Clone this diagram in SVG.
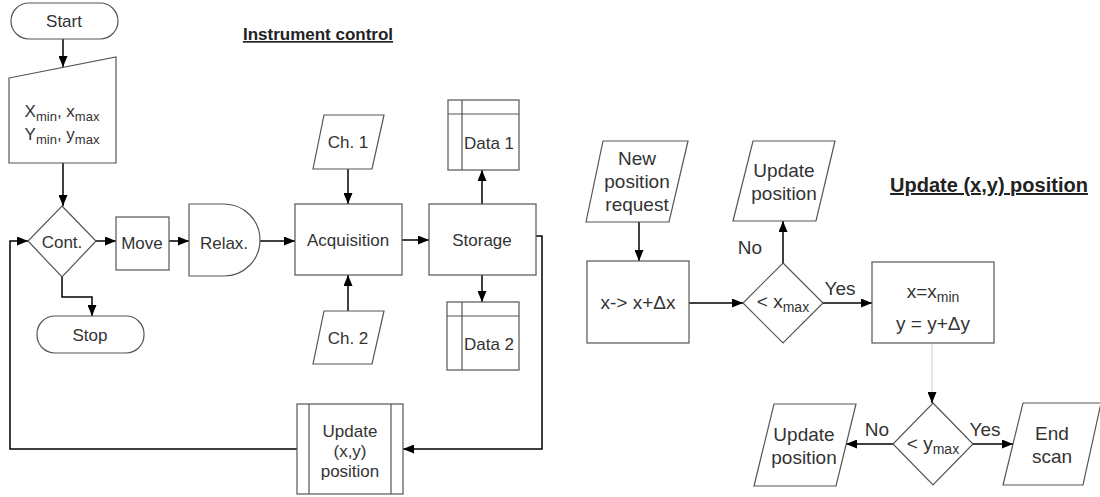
<svg xmlns="http://www.w3.org/2000/svg" width="1100" height="497" viewBox="0 0 1100 497">
<defs>
<marker id="ah" markerWidth="11" markerHeight="9" refX="11" refY="4.5" orient="auto" markerUnits="userSpaceOnUse">
<path d="M0,0 L11,4.5 L0,9 Z" fill="#000"/>
</marker>
<style>
.s{fill:#fff;stroke:#555;stroke-width:1.2}
.c{fill:none;stroke:#000;stroke-width:1.5}
.g{fill:none;stroke:#ccc;stroke-width:1}
text{font-family:"Liberation Sans",Arial,sans-serif;font-size:17px;fill:#333;text-anchor:middle}
.t{font-weight:bold;fill:#222;text-decoration:underline}
.r{font-size:19px}
.sub{font-size:13px}
.rsub{font-size:14px}
</style>
</defs>
<rect width="1100" height="497" fill="#fff"/>
<text class="t" x="318" y="40">Instrument control</text>
<text class="t" x="989" y="192" style="font-size:20px">Update (x,y) position</text>

<g id="connectors">
<path class="c" d="M63,39 V67" marker-end="url(#ah)"/>
<path class="c" d="M63,163 V206" marker-end="url(#ah)"/>
<path class="c" d="M96,241 H116" marker-end="url(#ah)"/>
<path class="c" d="M169,241 H189" marker-end="url(#ah)"/>
<path class="c" d="M260,241 H295" marker-end="url(#ah)"/>
<path class="c" d="M402,240 H429" marker-end="url(#ah)"/>
<path class="c" d="M348,169 V204" marker-end="url(#ah)"/>
<path class="c" d="M348,311 V275" marker-end="url(#ah)"/>
<path class="c" d="M482,204 V170" marker-end="url(#ah)"/>
<path class="c" d="M482,275 V302" marker-end="url(#ah)"/>
<path class="c" d="M62,277 V297 H92 V316" marker-end="url(#ah)"/>
<path class="c" d="M536,236 H542 V449 H403" marker-end="url(#ah)"/>
<path class="c" d="M297,449 H10 V241 H28" marker-end="url(#ah)"/>
<path class="c" d="M639,222 V261" marker-end="url(#ah)"/>
<path class="c" d="M689,303 H743" marker-end="url(#ah)"/>
<path class="c" d="M783,263 V221" marker-end="url(#ah)"/>
<path class="c" d="M823,303 H872" marker-end="url(#ah)"/>
<path class="g" d="M932,343 V393"/>
<path class="c" d="M932,392 V403" stroke-width="0.5" marker-end="url(#ah)"/>
<path class="c" d="M893,444 H846" marker-end="url(#ah)"/>
<path class="c" d="M973,444 H1013" marker-end="url(#ah)"/>
<text class="r" x="750" y="254">No</text>
<text class="r" x="840" y="295">Yes</text>
<text class="r" x="877" y="436">No</text>
<text class="r" x="985" y="436">Yes</text>
</g>

<g id="start"><rect class="s" x="11" y="3" width="107" height="36" rx="18"/><text x="64" y="27">Start</text></g>
<g id="input"><path class="s" d="M9,78 L116,57 L116,163 L9,163 Z"/>
<text x="62" y="117">X<tspan class="sub" dy="4">min</tspan><tspan dy="-4">, x</tspan><tspan class="sub" dy="4">max</tspan></text>
<text x="62" y="140">Y<tspan class="sub" dy="4">min</tspan><tspan dy="-4">, y</tspan><tspan class="sub" dy="4">max</tspan></text></g>
<g id="cont"><path class="s" d="M62,206 L96,241 L62,277 L28,241 Z"/><text x="62" y="248">Cont.</text></g>
<g id="move"><rect class="s" x="116" y="217" width="53" height="53"/><text x="142" y="249">Move</text></g>
<g id="relax"><path class="s" d="M189,204 H224 A36,36 0 0 1 224,276 H189 Z"/><text x="224" y="249">Relax.</text></g>
<g id="stop"><rect class="s" x="37" y="316" width="107" height="37" rx="18"/><text x="90" y="341">Stop</text></g>
<g id="acq"><rect class="s" x="295" y="204" width="107" height="71"/><text x="348" y="246">Acquisition</text></g>
<g id="storage"><rect class="s" x="429" y="204" width="107" height="71"/><text x="482" y="246">Storage</text></g>
<g id="ch1"><path class="s" d="M313,169 L324,115 L384,115 L372,169 Z"/><text x="348" y="148">Ch. 1</text></g>
<g id="ch2"><path class="s" d="M313,364 L324,311 L384,311 L372,364 Z"/><text x="348" y="344">Ch. 2</text></g>
<g id="data1"><rect class="s" x="448" y="100" width="71" height="70"/><path class="s" d="M448,114 H519 M462,100 V170"/><text x="489" y="149">Data 1</text></g>
<g id="data2"><rect class="s" x="447" y="302" width="72" height="68"/><path class="s" d="M447,316 H519 M462,302 V370"/><text x="489" y="350">Data 2</text></g>
<g id="update"><rect class="s" x="297" y="404" width="106" height="90"/><path class="s" d="M309,404 V494 M391,404 V494"/>
<text x="350" y="437">Update</text><text x="350" y="457">(x,y)</text><text x="350" y="477">position</text></g>

<g id="newpos"><path class="s" d="M586,222 L603,141 L688,141 L669,222 Z"/>
<text class="r" x="637" y="165">New</text><text class="r" x="637" y="188">position</text><text class="r" x="637" y="211">request</text></g>
<g id="incx"><rect class="s" x="587" y="261" width="102" height="82"/><text class="r" x="638" y="309">x-&gt; x+Δx</text></g>
<g id="xmax"><path class="s" d="M783,263 L823,303 L783,343 L743,303 Z"/><text class="r" x="783" y="308">&lt; x<tspan class="rsub" dy="4">max</tspan></text></g>
<g id="updtop"><path class="s" d="M733,221 L753,141 L835,141 L816,221 Z"/>
<text class="r" x="784" y="177">Update</text><text class="r" x="784" y="200">position</text></g>
<g id="reset"><rect class="s" x="872" y="262" width="122" height="81"/>
<text class="r" x="933" y="298">x=x<tspan class="rsub" dy="4">min</tspan></text><text class="r" x="933" y="330">y = y+Δy</text></g>
<g id="ymax"><path class="s" d="M933,403 L973,444 L933,485 L893,444 Z"/><text class="r" x="933" y="450">&lt; y<tspan class="rsub" dy="4">max</tspan></text></g>
<g id="updbot"><path class="s" d="M754,486 L774,404 L856,404 L836,486 Z"/>
<text class="r" x="804" y="441">Update</text><text class="r" x="804" y="464">position</text></g>
<g id="endscan"><path class="s" d="M1003,485 L1023,403 L1101,403 L1083,485 Z"/>
<text class="r" x="1052" y="440">End</text><text class="r" x="1052" y="463">scan</text></g>
</svg>
